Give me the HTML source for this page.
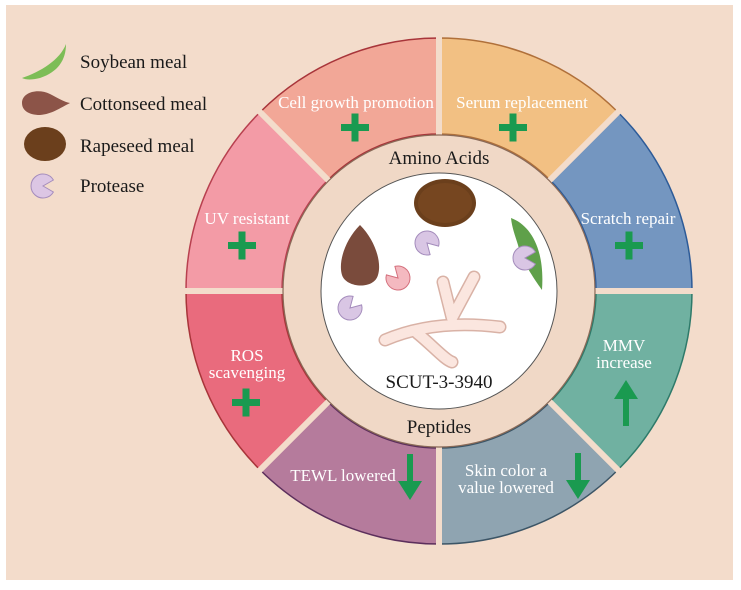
<!DOCTYPE html>
<html><head><meta charset="utf-8"><style>
html,body{margin:0;padding:0;background:#fff;}
svg{display:block;}
text{font-family:"Liberation Serif",serif;}
</style></head><body>
<svg width="741" height="590" viewBox="0 0 741 590" xmlns="http://www.w3.org/2000/svg">
<rect x="6" y="5" width="727" height="575" fill="#f3dccb"/>
<g stroke-width="1.5">
<path d="M260.1,112.1 A253,253 0 0 1 439,38 L439,134 A157,157 0 0 0 328,180 Z" fill="#f2a797" stroke="#a8353a"/>
<path d="M439,38 A253,253 0 0 1 617.9,112.1 L550,180 A157,157 0 0 0 439,134 Z" fill="#f2c083" stroke="#b0703a"/>
<path d="M617.9,112.1 A253,253 0 0 1 692,291 L596,291 A157,157 0 0 0 550,180 Z" fill="#7496c0" stroke="#2d5b98"/>
<path d="M692,291 A253,253 0 0 1 617.9,469.9 L550,402 A157,157 0 0 0 596,291 Z" fill="#70b1a1" stroke="#2e7a6a"/>
<path d="M617.9,469.9 A253,253 0 0 1 439,544 L439,448 A157,157 0 0 0 550,402 Z" fill="#8fa4b1" stroke="#3c5566"/>
<path d="M439,544 A253,253 0 0 1 260.1,469.9 L328,402 A157,157 0 0 0 439,448 Z" fill="#b57b9c" stroke="#5c2f5c"/>
<path d="M260.1,469.9 A253,253 0 0 1 186,291 L282,291 A157,157 0 0 0 328,402 Z" fill="#e96b7d" stroke="#a8353a"/>
<path d="M186,291 A253,253 0 0 1 260.1,112.1 L328,180 A157,157 0 0 0 282,291 Z" fill="#f39ba6" stroke="#b8404f"/>
</g>
<g stroke="#f3dccb" stroke-width="6">
<line x1="439" y1="30" x2="439" y2="552"/>
<line x1="178" y1="291" x2="700" y2="291"/>
<line x1="254.4" y1="106.4" x2="623.6" y2="475.6"/>
<line x1="623.6" y1="106.4" x2="254.4" y2="475.6"/>
</g>
<circle cx="439" cy="291" r="156" fill="#f0d8c6" stroke="#8a6a58" stroke-width="1.2"/>
<circle cx="439" cy="291" r="118" fill="#fff" stroke="#555" stroke-width="1"/>
<g fill="#fff" font-size="17" text-anchor="middle">
<text x="356" y="108">Cell growth promotion</text>
<text x="522" y="108">Serum replacement</text>
<text x="628" y="224">Scratch repair</text>
<text x="624" y="351">MMV</text>
<text x="624" y="368">increase</text>
<text x="506" y="476">Skin color a</text>
<text x="506" y="493">value lowered</text>
<text x="343" y="481">TEWL lowered</text>
<text x="247" y="361">ROS</text>
<text x="247" y="378">scavenging</text>
<text x="247" y="224">UV resistant</text>
</g>
<g fill="#1a1a1a" font-size="19" text-anchor="middle">
<text x="439" y="164">Amino Acids</text>
<text x="439" y="433">Peptides</text>
<text x="439" y="388">SCUT-3-3940</text>
</g>
<g fill="#1a9a50">
<rect x="341" y="124" width="28" height="7"/><rect x="351.5" y="113.5" width="7" height="28"/>
<rect x="499" y="124" width="28" height="7"/><rect x="509.5" y="113.5" width="7" height="28"/>
<rect x="615" y="242" width="28" height="7"/><rect x="625.5" y="231.5" width="7" height="28"/>
<rect x="228" y="242" width="28" height="7"/><rect x="238.5" y="231.5" width="7" height="28"/>
<rect x="232" y="399" width="28" height="7"/><rect x="242.5" y="388.5" width="7" height="28"/>
<rect x="623" y="396" width="6" height="30"/><polygon points="614,399 626,380 638,399"/>
<rect x="407" y="454" width="6" height="30"/><polygon points="398,481 410,500 422,481"/>
<rect x="575" y="453" width="6" height="30"/><polygon points="566,480 578,499 590,480"/>
</g>
<ellipse cx="445" cy="203" rx="31" ry="24" fill="#6b3f1c"/>
<ellipse cx="445" cy="203" rx="27" ry="20" fill="#7a4a22" opacity="0.7"/>
<path d="M360,225 C345,240 338,262 342,275 C346,288 374,290 378,275 C382,262 375,240 360,225 Z" fill="#7a4b3c"/>
<path d="M511,218 C530,225 545,248 542,290 C535,280 522,262 518,245 C515,235 512,228 511,218 Z" fill="#5fa04a"/>
<g fill="#d9c6e4" stroke="#a48cbc" stroke-width="1">
<path d="M427,243 L430.1,254.6 A12,12 0 1 1 438.6,246.1 Z"/>
<path d="M525,258 L535.4,264 A12,12 0 1 1 535.4,252 Z"/>
<path d="M350,308 L361.6,304.9 A12,12 0 1 1 353.1,296.4 Z"/>
</g>
<path d="M398,278 L394.9,266.4 A12,12 0 1 1 386.4,274.9 Z" fill="#f4b9c0" stroke="#d4707d" stroke-width="1"/>
<g fill="none" stroke-linecap="round">
<path d="M443,282 L452,318 M474,277 L452,318 M385,340 C420,325 460,322 500,327 M417,333 C432,345 445,360 452,362" stroke="#d9b2a6" stroke-width="13"/>
<path d="M443,282 L452,318 M474,277 L452,318 M385,340 C420,325 460,322 500,327 M417,333 C432,345 445,360 452,362" stroke="#fbe6df" stroke-width="10"/>
</g>
<path d="M22,78 C40,72 60,60 66,44 C66,60 58,72 40,78 C32,80 26,80 22,78 Z" fill="#7dbd56"/>
<path d="M22,103 C22,92 38,88 50,94 C58,98 64,102 70,103 C60,108 52,114 40,115 C28,115 22,110 22,103 Z" fill="#8c5448"/>
<ellipse cx="45" cy="144" rx="21" ry="17" fill="#6b3f1c"/>
<path d="M43,186 L53.4,192 A12,12 0 1 1 53.4,180 Z" fill="#dcc6e4" stroke="#a48cbc" stroke-width="1"/>
<g fill="#1a1a1a" font-size="19">
<text x="80" y="68">Soybean meal</text>
<text x="80" y="110">Cottonseed meal</text>
<text x="80" y="152">Rapeseed meal</text>
<text x="80" y="192">Protease</text>
</g>
</svg>
</body></html>
